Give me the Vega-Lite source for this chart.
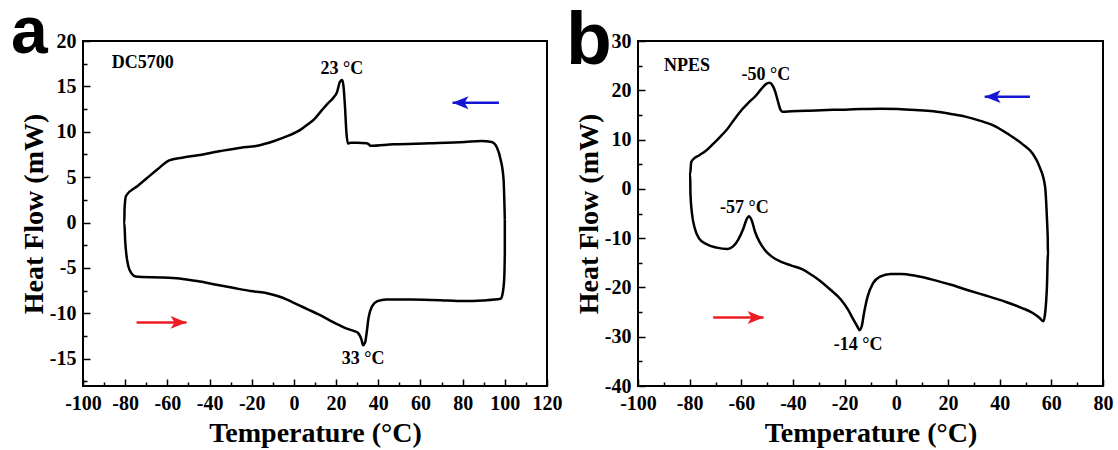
{
  "$schema": "https://vega.github.io/schema/vega-lite/v6.json",
  "background": "white",
  "padding": {"left": 10, "top": -1, "right": 5, "bottom": 5},
  "bounds": "flush",
  "spacing": 91,
  "datasets": {
    "curveA": [
      {"i":1,"T":100.0,"HF":0.35},{"i":2,"T":99.4,"HF":4.76},{"i":3,"T":98.0,"HF":6.96},{"i":4,"T":96.3,"HF":8.25},
      {"i":5,"T":93.8,"HF":8.87},{"i":6,"T":88.7,"HF":8.98},{"i":7,"T":81.1,"HF":8.87},{"i":8,"T":64.2,"HF":8.73},
      {"i":9,"T":47.2,"HF":8.62},{"i":10,"T":36.2,"HF":8.45},{"i":11,"T":35.6,"HF":8.6},{"i":12,"T":34.5,"HF":8.75},
      {"i":13,"T":30.0,"HF":8.8},{"i":14,"T":26.9,"HF":8.8},{"i":15,"T":25.6,"HF":8.7},{"i":16,"T":24.9,"HF":9.9},
      {"i":17,"T":24.2,"HF":12.84},{"i":18,"T":23.5,"HF":15.04},{"i":19,"T":22.9,"HF":15.7},{"i":20,"T":21.8,"HF":15.5},
      {"i":21,"T":20.5,"HF":14.4},{"i":22,"T":18.5,"HF":13.7},{"i":23,"T":16.0,"HF":13.1},{"i":24,"T":13.0,"HF":12.3},
      {"i":25,"T":9.7,"HF":11.4},{"i":26,"T":6.5,"HF":10.8},{"i":27,"T":3.4,"HF":10.27},{"i":28,"T":-2.9,"HF":9.54},
      {"i":29,"T":-9.3,"HF":8.99},{"i":30,"T":-18.0,"HF":8.44},{"i":31,"T":-25.1,"HF":8.25},{"i":32,"T":-34.6,"HF":7.89},
      {"i":33,"T":-45.6,"HF":7.41},{"i":34,"T":-53.0,"HF":7.15},{"i":35,"T":-59.1,"HF":6.86},{"i":36,"T":-64.5,"HF":5.9},
      {"i":37,"T":-69.4,"HF":4.95},{"i":38,"T":-74.1,"HF":4.03},{"i":39,"T":-79.6,"HF":2.93},{"i":40,"T":-80.3,"HF":1.5},
      {"i":41,"T":-80.4,"HF":0.0},{"i":42,"T":-80.0,"HF":-2.0},{"i":43,"T":-79.4,"HF":-3.6},{"i":44,"T":-78.5,"HF":-4.8},
      {"i":45,"T":-77.0,"HF":-5.6},{"i":46,"T":-75.0,"HF":-5.95},{"i":47,"T":-72.0,"HF":-6.0},{"i":48,"T":-62.8,"HF":-6.04},
      {"i":49,"T":-54.3,"HF":-6.15},{"i":50,"T":-45.8,"HF":-6.44},{"i":51,"T":-37.4,"HF":-6.81},{"i":52,"T":-28.9,"HF":-7.18},
      {"i":53,"T":-20.5,"HF":-7.54},{"i":54,"T":-13.7,"HF":-7.73},{"i":55,"T":-7.8,"HF":-8.09},{"i":56,"T":-3.5,"HF":-8.46},
      {"i":57,"T":1.5,"HF":-9.01},{"i":58,"T":6.6,"HF":-9.56},{"i":59,"T":11.7,"HF":-10.11},{"i":60,"T":16.8,"HF":-10.74},
      {"i":61,"T":21.8,"HF":-11.33},{"i":62,"T":26.1,"HF":-11.77},{"i":63,"T":28.6,"HF":-11.95},{"i":64,"T":30.3,"HF":-12.13},
      {"i":65,"T":31.2,"HF":-12.43},{"i":66,"T":32.0,"HF":-12.87},{"i":67,"T":32.8,"HF":-13.5},{"i":68,"T":33.7,"HF":-13.24},
      {"i":69,"T":34.5,"HF":-12.13},{"i":70,"T":35.4,"HF":-10.48},{"i":71,"T":37.1,"HF":-9.2},{"i":72,"T":39.6,"HF":-8.65},
      {"i":73,"T":43.8,"HF":-8.46},{"i":74,"T":55.7,"HF":-8.46},{"i":75,"T":72.6,"HF":-8.57},{"i":76,"T":81.1,"HF":-8.65},
      {"i":77,"T":89.5,"HF":-8.57},{"i":78,"T":98.0,"HF":-8.39},{"i":79,"T":98.8,"HF":-8.0},{"i":80,"T":99.7,"HF":-6.26},
      {"i":81,"T":100.0,"HF":-3.32},{"i":82,"T":100.0,"HF":0.35}
    ],
    "curveB": [
      {"i":1,"T":58.6,"HF":-9.71},{"i":2,"T":57.6,"HF":0.38},{"i":3,"T":55.5,"HF":4.42},{"i":4,"T":52.8,"HF":7.12},
      {"i":5,"T":48.7,"HF":9.13},{"i":6,"T":43.2,"HF":11.15},{"i":7,"T":37.7,"HF":12.84},{"i":8,"T":32.2,"HF":13.85},
      {"i":9,"T":26.7,"HF":14.65},{"i":10,"T":21.2,"HF":15.19},{"i":11,"T":14.3,"HF":15.73},{"i":12,"T":7.4,"HF":16.0},
      {"i":13,"T":0.6,"HF":16.2},{"i":14,"T":-6.3,"HF":16.27},{"i":15,"T":-13.2,"HF":16.2},{"i":16,"T":-20.0,"HF":16.07},
      {"i":17,"T":-26.9,"HF":16.0},{"i":18,"T":-33.8,"HF":15.87},{"i":19,"T":-40.6,"HF":15.73},{"i":20,"T":-44.1,"HF":15.66},
      {"i":21,"T":-44.8,"HF":16.0},{"i":22,"T":-45.9,"HF":17.88},{"i":23,"T":-47.0,"HF":19.9},{"i":24,"T":-48.1,"HF":21.12},
      {"i":25,"T":-49.2,"HF":21.52},{"i":26,"T":-50.5,"HF":21.25},{"i":27,"T":-52.3,"HF":20.24},{"i":28,"T":-54.4,"HF":18.89},
      {"i":29,"T":-57.1,"HF":17.55},{"i":30,"T":-59.9,"HF":16.0},{"i":31,"T":-62.6,"HF":14.18},{"i":32,"T":-65.4,"HF":12.16},
      {"i":33,"T":-68.1,"HF":10.62},{"i":34,"T":-70.9,"HF":9.13},{"i":35,"T":-73.6,"HF":7.79},{"i":36,"T":-76.4,"HF":6.78},
      {"i":37,"T":-78.4,"HF":6.11},{"i":38,"T":-79.4,"HF":5.43},{"i":39,"T":-79.8,"HF":3.08},{"i":40,"T":-79.7,"HF":-0.96},
      {"i":41,"T":-79.1,"HF":-5.0},{"i":42,"T":-78.0,"HF":-8.03},{"i":43,"T":-76.4,"HF":-10.05},{"i":44,"T":-73.6,"HF":-11.19},
      {"i":45,"T":-69.5,"HF":-11.93},{"i":46,"T":-65.4,"HF":-12.2},{"i":47,"T":-63.3,"HF":-11.73},{"i":48,"T":-61.3,"HF":-10.38},
      {"i":49,"T":-59.2,"HF":-8.03},{"i":50,"T":-57.8,"HF":-6.01},{"i":51,"T":-57.1,"HF":-5.54},{"i":52,"T":-56.0,"HF":-6.35},
      {"i":53,"T":-54.7,"HF":-8.7},{"i":54,"T":-53.0,"HF":-10.72},{"i":55,"T":-50.9,"HF":-12.4},{"i":56,"T":-48.2,"HF":-13.75},
      {"i":57,"T":-44.8,"HF":-14.76},{"i":58,"T":-40.6,"HF":-15.57},{"i":59,"T":-36.5,"HF":-16.31},{"i":60,"T":-33.8,"HF":-17.12},
      {"i":61,"T":-29.7,"HF":-18.6},{"i":62,"T":-25.5,"HF":-20.48},{"i":63,"T":-21.4,"HF":-22.5},{"i":64,"T":-18.7,"HF":-24.52},
      {"i":65,"T":-16.6,"HF":-26.54},{"i":66,"T":-14.8,"HF":-28.22},{"i":67,"T":-14.3,"HF":-28.69},{"i":68,"T":-13.4,"HF":-27.88},
      {"i":69,"T":-12.5,"HF":-25.19},{"i":70,"T":-11.1,"HF":-21.83},{"i":71,"T":-9.0,"HF":-19.14},{"i":72,"T":-6.3,"HF":-17.79},
      {"i":73,"T":-2.2,"HF":-17.25},{"i":74,"T":2.0,"HF":-17.25},{"i":75,"T":7.4,"HF":-17.65},{"i":76,"T":14.3,"HF":-18.46},
      {"i":77,"T":21.2,"HF":-19.47},{"i":78,"T":28.1,"HF":-20.62},{"i":79,"T":34.9,"HF":-21.69},{"i":80,"T":41.8,"HF":-22.84},
      {"i":81,"T":48.7,"HF":-24.18},{"i":82,"T":52.8,"HF":-25.19},{"i":83,"T":55.5,"HF":-26.2},{"i":84,"T":56.9,"HF":-26.88},
      {"i":85,"T":57.6,"HF":-25.19},{"i":86,"T":58.3,"HF":-19.81},{"i":87,"T":58.7,"HF":-13.08},{"i":88,"T":58.6,"HF":-9.71}
    ],
    "arrowsA": [
      {"dir":"heating","tail":-74.6,"tip":-50.9,"y":-11.0},
      {"dir":"cooling","tail":97.2,"tip":75.2,"y":13.2}
    ],
    "arrowsB": [
      {"dir":"heating","tail":-70.9,"tip":-51.4,"y":-26.1},
      {"dir":"cooling","tail":51.7,"tip":34.2,"y":18.7}
    ],
    "labelsA": [
      {"text":"DC5700","x":-71.7,"y":17.6},
      {"text":"23 °C","x":22.7,"y":16.9},
      {"text":"33 °C","x":32.8,"y":-15.07}
    ],
    "labelsB": [
      {"text":"NPES","x":-81.0,"y":24.95},
      {"text":"-50 °C","x":-50.5,"y":23.13},
      {"text":"-57 °C","x":-58.8,"y":-3.79},
      {"text":"-14 °C","x":-14.8,"y":-31.59}
    ]
  },
  "hconcat": [
    {
      "width": 464,
      "height": 345,
      "title": {"text": "a", "anchor": "start", "frame": "group", "orient": "top", "dx": -72, "offset": -88, "baseline": "alphabetic", "fontSize": 66, "font": "Liberation Sans", "fontWeight": "bold", "color": "black"},
      "layer": [
        {
          "data": {"name": "curveA"},
          "mark": {"type": "line", "color": "black", "strokeWidth": 2.5, "strokeJoin": "round", "interpolate": "monotone"},
          "encoding": {
            "x": {"field": "T", "type": "quantitative", "scale": {"domain": [-100, 120], "nice": false, "zero": false},
              "axis": {"title": "Temperature (°C)", "tickCount": 100,
                "values": [-100,-90,-80,-70,-60,-50,-40,-30,-20,-10,0,10,20,30,40,50,60,70,80,90,100,110,120],
                "labelExpr": "datum.value % 20 === 0 ? '' + datum.value : ''",
                "tickSize": {"condition": {"test": "datum.value % 20 === 0", "value": -7}, "value": -4}}},
            "y": {"field": "HF", "type": "quantitative", "scale": {"domain": [-18, 20], "nice": false, "zero": false},
              "axis": {"title": "Heat Flow (mW)", "tickCount": 100,
                "values": [-17.5,-15,-12.5,-10,-7.5,-5,-2.5,0,2.5,5,7.5,10,12.5,15,17.5,20],
                "labelExpr": "datum.value % 5 === 0 ? '' + datum.value : ''",
                "tickSize": {"condition": {"test": "datum.value % 5 === 0", "value": -7}, "value": -4}}},
            "order": {"field": "i", "type": "quantitative"}
          }
        },
        {
          "data": {"name": "arrowsA"},
          "mark": {"type": "rule", "strokeWidth": 2.5},
          "encoding": {
            "x": {"field": "tail", "type": "quantitative"},
            "x2": {"field": "tip"},
            "y": {"field": "y", "type": "quantitative"},
            "color": {"field": "dir", "type": "nominal", "scale": {"domain": ["heating", "cooling"], "range": ["#ec1c24", "#1515d6"]}, "legend": null}
          }
        },
        {
          "data": {"name": "arrowsA"},
          "mark": {"type": "point", "filled": true, "opacity": 1, "size": 256, "strokeWidth": 0},
          "encoding": {
            "x": {"field": "tip", "type": "quantitative"},
            "y": {"field": "y", "type": "quantitative"},
            "shape": {"field": "dir", "type": "nominal", "scale": {"domain": ["heating", "cooling"], "range": ["M 0 0 L -2 -0.8 L -1.5 0 L -2 0.8 Z", "M 0 0 L 2 -0.8 L 1.5 0 L 2 0.8 Z"]}, "legend": null},
            "color": {"field": "dir", "type": "nominal", "scale": {"domain": ["heating", "cooling"], "range": ["#ec1c24", "#1515d6"]}, "legend": null}
          }
        },
        {
          "data": {"name": "labelsA"},
          "mark": {"type": "text", "font": "Liberation Serif", "fontWeight": "bold", "fontSize": 18, "color": "black", "align": "center", "baseline": "middle"},
          "encoding": {
            "x": {"field": "x", "type": "quantitative"},
            "y": {"field": "y", "type": "quantitative"},
            "text": {"field": "text", "type": "nominal"}
          }
        }
      ]
    },
    {
      "width": 465,
      "height": 345,
      "title": {"text": "b", "anchor": "start", "frame": "group", "orient": "top", "dx": -72, "offset": -108, "baseline": "alphabetic", "fontSize": 75, "font": "Liberation Sans", "fontWeight": "bold", "color": "black"},
      "layer": [
        {
          "data": {"name": "curveB"},
          "mark": {"type": "line", "color": "black", "strokeWidth": 2.5, "strokeJoin": "round", "interpolate": "monotone"},
          "encoding": {
            "x": {"field": "T", "type": "quantitative", "scale": {"domain": [-100, 80], "nice": false, "zero": false},
              "axis": {"title": "Temperature (°C)", "tickCount": 100,
                "values": [-100,-90,-80,-70,-60,-50,-40,-30,-20,-10,0,10,20,30,40,50,60,70,80],
                "labelExpr": "datum.value % 20 === 0 ? '' + datum.value : ''",
                "tickSize": {"condition": {"test": "datum.value % 20 === 0", "value": -7}, "value": -4}}},
            "y": {"field": "HF", "type": "quantitative", "scale": {"domain": [-40, 30], "nice": false, "zero": false},
              "axis": {"title": "Heat Flow (mW)", "tickCount": 100,
                "values": [-40,-35,-30,-25,-20,-15,-10,-5,0,5,10,15,20,25,30],
                "labelExpr": "datum.value % 10 === 0 ? '' + datum.value : ''",
                "tickSize": {"condition": {"test": "datum.value % 10 === 0", "value": -7}, "value": -4}}},
            "order": {"field": "i", "type": "quantitative"}
          }
        },
        {
          "data": {"name": "arrowsB"},
          "mark": {"type": "rule", "strokeWidth": 2.5},
          "encoding": {
            "x": {"field": "tail", "type": "quantitative"},
            "x2": {"field": "tip"},
            "y": {"field": "y", "type": "quantitative"},
            "color": {"field": "dir", "type": "nominal", "scale": {"domain": ["heating", "cooling"], "range": ["#ec1c24", "#1515d6"]}, "legend": null}
          }
        },
        {
          "data": {"name": "arrowsB"},
          "mark": {"type": "point", "filled": true, "opacity": 1, "size": 256, "strokeWidth": 0},
          "encoding": {
            "x": {"field": "tip", "type": "quantitative"},
            "y": {"field": "y", "type": "quantitative"},
            "shape": {"field": "dir", "type": "nominal", "scale": {"domain": ["heating", "cooling"], "range": ["M 0 0 L -2 -0.8 L -1.5 0 L -2 0.8 Z", "M 0 0 L 2 -0.8 L 1.5 0 L 2 0.8 Z"]}, "legend": null},
            "color": {"field": "dir", "type": "nominal", "scale": {"domain": ["heating", "cooling"], "range": ["#ec1c24", "#1515d6"]}, "legend": null}
          }
        },
        {
          "data": {"name": "labelsB"},
          "mark": {"type": "text", "font": "Liberation Serif", "fontWeight": "bold", "fontSize": 18, "color": "black", "align": "center", "baseline": "middle"},
          "encoding": {
            "x": {"field": "x", "type": "quantitative"},
            "y": {"field": "y", "type": "quantitative"},
            "text": {"field": "text", "type": "nominal"}
          }
        }
      ]
    }
  ],
  "config": {
    "view": {"stroke": "black", "strokeWidth": 2},
    "axis": {
      "domain": false, "grid": false,
      "labelFont": "Liberation Serif", "labelFontWeight": "bold", "labelFontSize": 20, "labelColor": "black",
      "titleFont": "Liberation Serif", "titleFontWeight": "bold", "titleFontSize": 28, "titleColor": "black",
      "tickColor": "black", "tickWidth": 1.5,
      "labelFlush": false, "labelOverlap": false, "labelBound": false
    },
    "axisX": {"labelPadding": 14, "titlePadding": 3},
    "axisY": {"labelPadding": 14, "titlePadding": 1}
  }
}
